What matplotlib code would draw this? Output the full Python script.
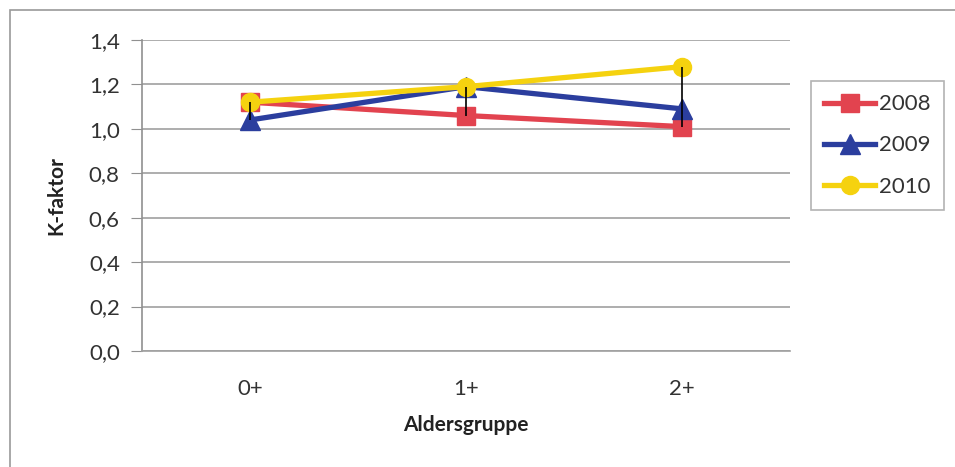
import matplotlib
matplotlib.use("Agg")
import matplotlib.pyplot as plt
from matplotlib.patches import Rectangle
import numpy as np

plt.rcParams['font.family'] = ['Lato', 'DejaVu Sans']

categories = ["0+", "1+", "2+"]
years = ["2008", "2009", "2010"]
k2008 = [1.12, 1.06, 1.01]
k2009 = [1.04, 1.19, 1.09]
k2010 = [1.12, 1.19, 1.28]
yticks = [0.0, 0.2, 0.4, 0.6, 0.8, 1.0, 1.2, 1.4]
ytick_labels = ["0,0", "0,2", "0,4", "0,6", "0,8", "1,0", "1,2", "1,4"]

colors = ["#E2434F", "#2B3E9E", "#F5D20F"]
markers = ["s", "^", "o"]

fig = plt.figure(figsize=(9.55, 4.67), dpi=100)
# chart border
fig.patches.append(Rectangle((10/955, -0.1), 1.2, 1 - 10/467 + 0.1, transform=fig.transFigure,
                             fill=False, edgecolor="#9A9A9A", lw=1.2))
ax = fig.add_axes([142/955, 1 - 351/467, (790-142)/955, (351-40)/467])

x = np.arange(len(categories))
series = [k2008, k2009, k2010]
for vals, c, m, lab in zip(series, colors, markers, years):
    ax.plot(x, vals, color=c, lw=3.8, marker=m, markersize=13 if m != "^" else 14,
            markerfacecolor=c, markeredgecolor=c, label=lab, zorder=3)

# high-low lines
arr = np.array(series)
ax.vlines(x, arr.min(axis=0), arr.max(axis=0), color="black", lw=1.2, zorder=5)

ax.set_xlim(-0.5, 2.5)
ax.set_ylim(0, 1.4)
ax.set_yticks(yticks)
ax.set_yticklabels(ytick_labels)
ax.set_xticks(x)
ax.set_xticklabels(categories)
ax.yaxis.grid(True, color="#A0A0A0", lw=1.2)
ax.set_axisbelow(True)
for s in ["top", "right"]:
    ax.spines[s].set_visible(False)
ax.spines["left"].set_color("#909090")
ax.spines["bottom"].set_color("#A0A0A0")
ax.spines["left"].set_linewidth(1.2)
ax.spines["bottom"].set_linewidth(1.2)
ax.tick_params(axis="y", length=8, color="#909090", labelsize=16, labelcolor="#333333", pad=8)
ax.tick_params(axis="x", length=0, labelsize=16, labelcolor="#333333", pad=20)
ax.set_ylabel("K-faktor", fontsize=15, fontweight="bold", color="#222222", labelpad=16)
ax.set_xlabel("Aldersgruppe", fontsize=15, fontweight="bold", color="#222222", labelpad=12)

leg = ax.legend(loc="upper left", bbox_to_anchor=(811/955, 1 - 81/467), bbox_transform=fig.transFigure,
                frameon=True, fancybox=False, fontsize=16, handlelength=2.3, handletextpad=0.15,
                labelspacing=0.95, borderpad=0.6, borderaxespad=0, labelcolor="#333333")
leg.get_frame().set_edgecolor("#A0A0A0")
leg.get_frame().set_linewidth(1.2)

fig.savefig("out.png", dpi=100)
